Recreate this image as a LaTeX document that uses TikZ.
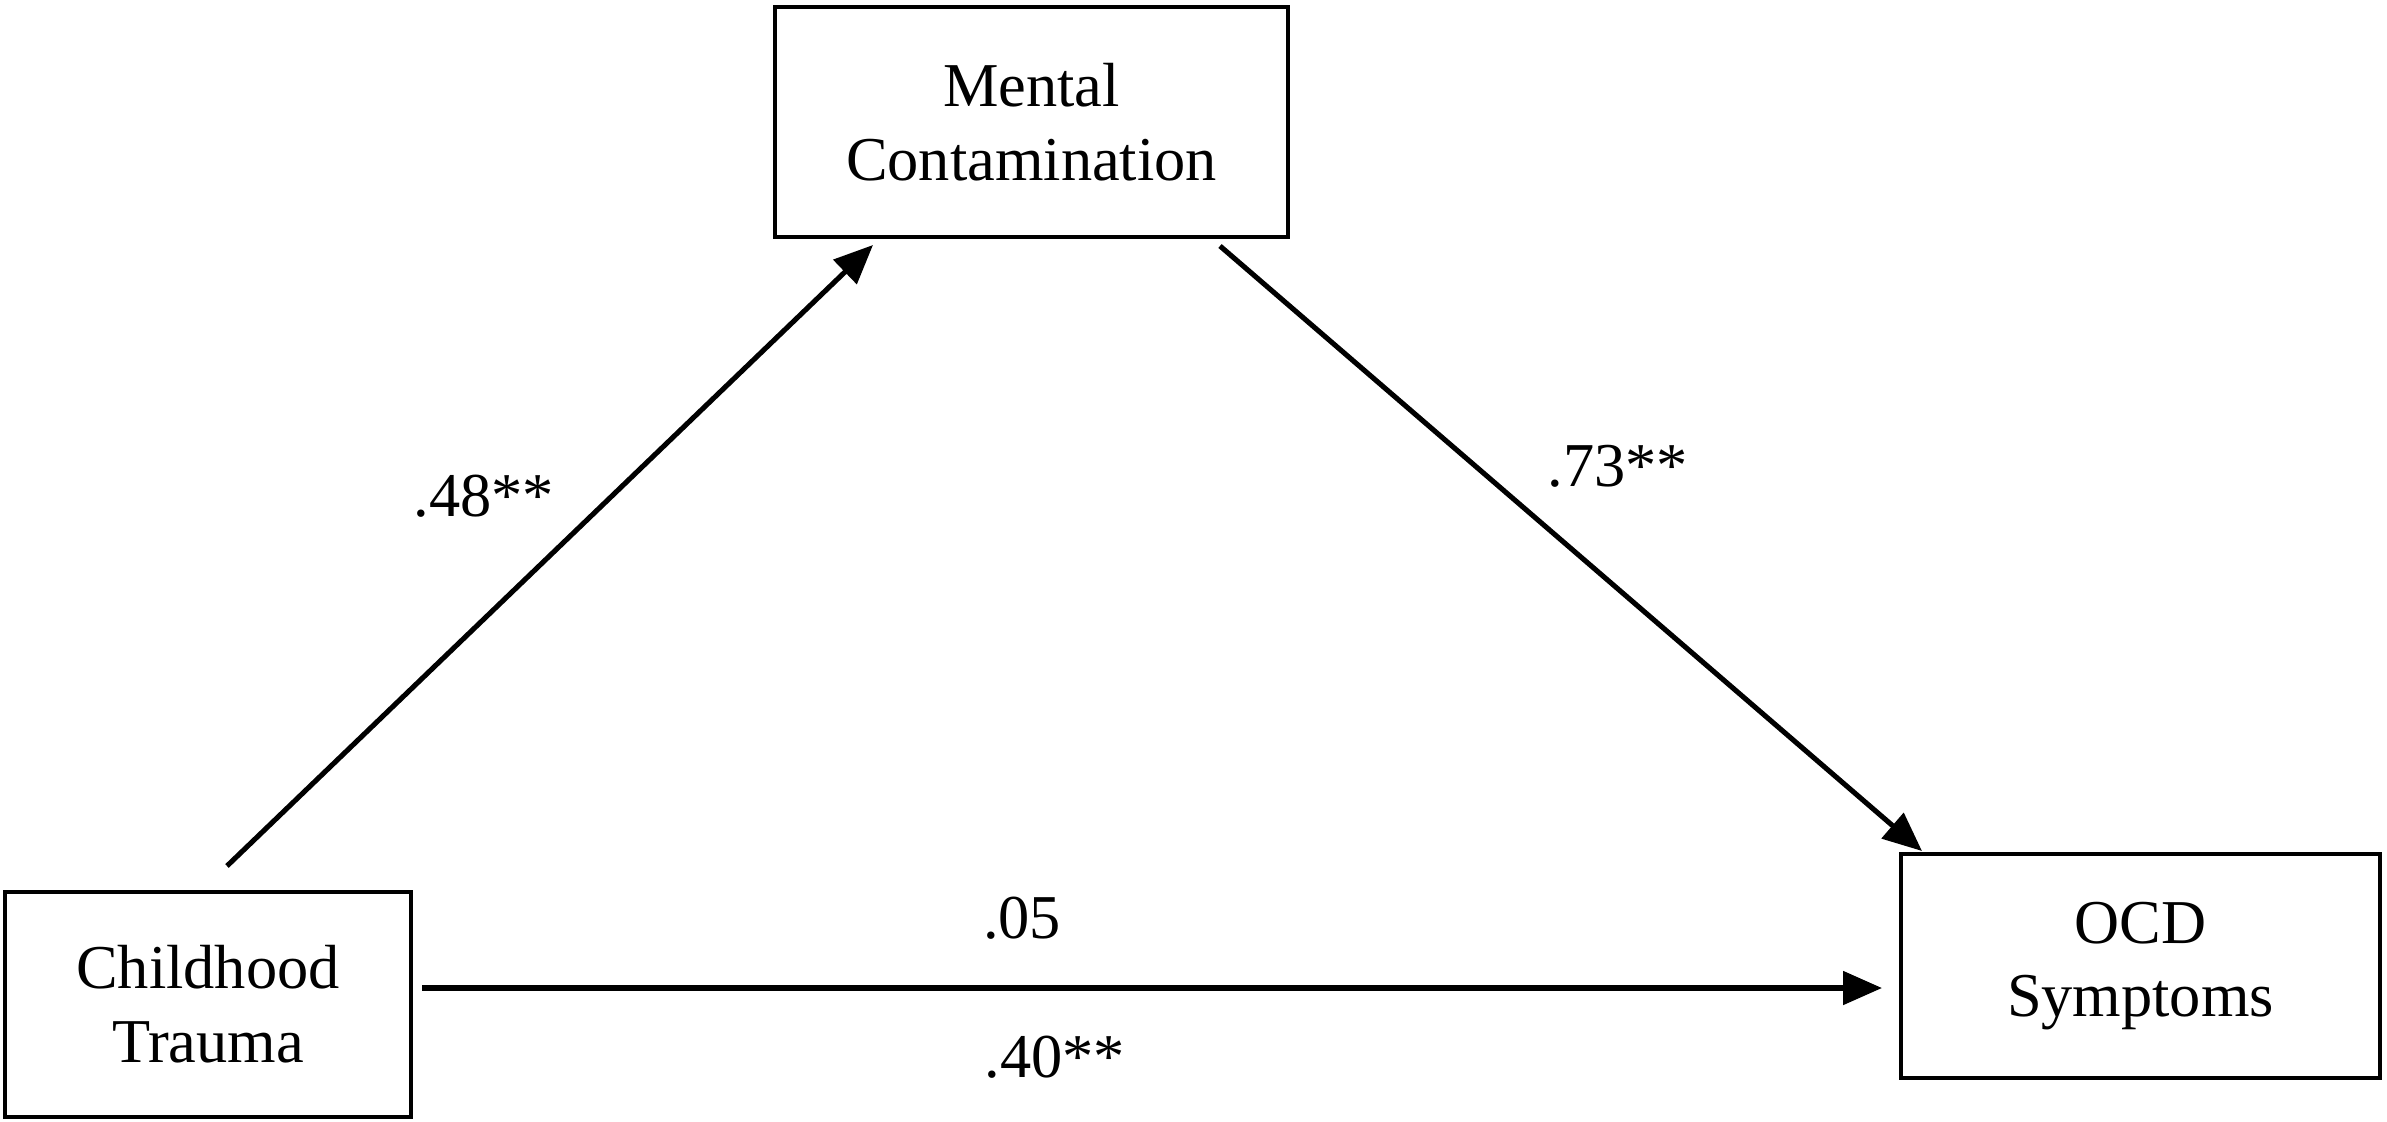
\documentclass[tikz,border=0pt]{standalone}
\usepackage{fontspec}
\setmainfont{Liberation Serif}
\usetikzlibrary{arrows.meta}
\begin{document}
\begin{tikzpicture}[x=0.02cm,y=-0.02cm,
  box/.style={draw, line width=2.6pt, align=center, inner sep=0pt, font=\fontsize{35.5}{42}\selectfont},
  conn/.style={line width=2.9pt, -{Triangle[length=0.78cm,width=0.66cm]}},
  lbl/.style={font=\fontsize{35.5}{42}\selectfont, inner sep=0pt}]
\useasboundingbox (0,0) rectangle (2387,1122);
\node[box, minimum width=10.26cm, minimum height=4.6cm] (mc) at (1031.5,122) {Mental\\Contamination};
\node[box, minimum width=8.12cm, minimum height=4.5cm] (ct) at (208,1004.5) {Childhood\\Trauma};
\node[box, minimum width=9.58cm, minimum height=4.48cm] (ocd) at (2140.5,966) {OCD\\Symptoms};
\coordinate (a1s) at (227,866);
\coordinate (a1e) at (873,245);
\coordinate (a2s) at (1220,246);
\coordinate (a2e) at (1922,851);
\coordinate (a3s) at (422,988);
\coordinate (a3e) at (1882,988);
\draw[conn] (a1s) -- (a1e);
\draw[conn] (a2s) -- (a2e);
\draw[conn] (a3s) -- (a3e);
\node[lbl] (l1) at (484,496) {.48**};
\node[lbl] (l2) at (1618,466) {.73**};
\node[lbl] (l3) at (1022,918) {.05};
\node[lbl] (l4) at (1055,1057) {.40**};
\end{tikzpicture}
\end{document}
